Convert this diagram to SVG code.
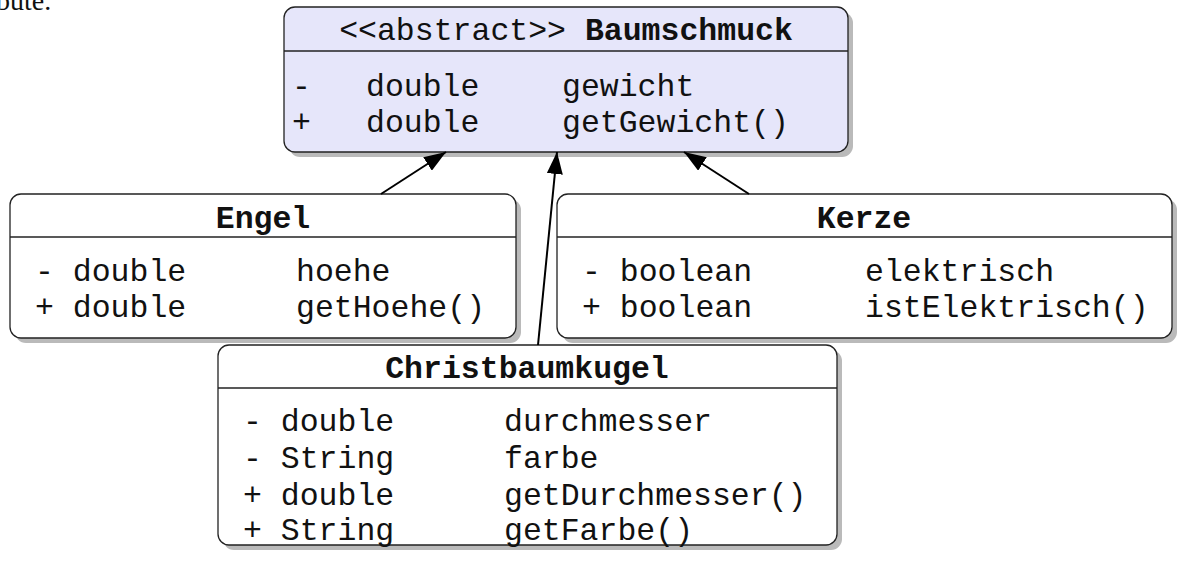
<svg xmlns="http://www.w3.org/2000/svg" width="1178" height="567" viewBox="0 0 1178 567">
<defs>
<style>
.shadow{fill:#bababa;}
.box{fill:#ffffff;stroke:#222;stroke-width:1.3;}
.abs{fill:#e6e6fa;}
.sep{stroke:#222;stroke-width:1.3;}
.t{font-family:"Liberation Mono","Courier New",monospace;font-size:31.5px;fill:#111;}
.b{font-weight:bold;}
.edge{stroke:#000;stroke-width:2;fill:none;marker-end:url(#tri);}
</style>
<marker id="tri" viewBox="0 0 22 16" refX="22" refY="8" markerWidth="22" markerHeight="16" markerUnits="userSpaceOnUse" orient="auto">
<path d="M0,0 L22,8 L0,16 Z" fill="#000"/>
</marker>
</defs>
<rect width="1178" height="567" fill="#fff"/>
<text x="-4" y="10" font-family="Liberation Serif, serif" font-size="28" fill="#111">bute.</text>

<g id="Baumschmuck">
<rect class="shadow" x="289" y="12" width="564" height="145" rx="11"/>
<rect class="box abs" x="284" y="7" width="564" height="145" rx="11"/>
<line class="sep" x1="284" y1="51" x2="848" y2="51"/>
<text class="t" x="566" y="40" text-anchor="middle">&lt;&lt;abstract&gt;&gt; <tspan class="b">Baumschmuck</tspan></text>
<text class="t" x="292" y="96">-</text>
<text class="t" x="366" y="96">double</text>
<text class="t" x="562" y="96">gewicht</text>
<text class="t" x="292" y="132">+</text>
<text class="t" x="366" y="132">double</text>
<text class="t" x="562" y="132">getGewicht()</text>
</g>

<g id="Engel">
<rect class="shadow" x="15" y="199" width="506" height="144" rx="11"/>
<rect class="box" x="10" y="194" width="506" height="144" rx="11"/>
<line class="sep" x1="10" y1="237" x2="516" y2="237"/>
<text class="t b" x="263" y="228" text-anchor="middle">Engel</text>
<text class="t" x="35" y="281">- double</text>
<text class="t" x="296" y="281">hoehe</text>
<text class="t" x="35" y="317">+ double</text>
<text class="t" x="296" y="317">getHoehe()</text>
</g>

<g id="Kerze">
<rect class="shadow" x="562" y="199" width="615" height="144" rx="11"/>
<rect class="box" x="557" y="194" width="615" height="144" rx="11"/>
<line class="sep" x1="557" y1="237" x2="1172" y2="237"/>
<text class="t b" x="864" y="228" text-anchor="middle">Kerze</text>
<text class="t" x="582" y="281">- boolean</text>
<text class="t" x="865" y="281">elektrisch</text>
<text class="t" x="582" y="317">+ boolean</text>
<text class="t" x="865" y="317">istElektrisch()</text>
</g>

<g id="Christbaumkugel">
<rect class="shadow" x="223" y="350" width="619" height="200" rx="11"/>
<rect class="box" x="218" y="345" width="619" height="200" rx="11"/>
<line class="sep" x1="218" y1="388" x2="837" y2="388"/>
<text class="t b" x="527" y="378" text-anchor="middle">Christbaumkugel</text>
<text class="t" x="243" y="431">- double</text>
<text class="t" x="504" y="431">durchmesser</text>
<text class="t" x="243" y="468">- String</text>
<text class="t" x="504" y="468">farbe</text>
<text class="t" x="243" y="505">+ double</text>
<text class="t" x="504" y="505">getDurchmesser()</text>
<text class="t" x="243" y="540">+ String</text>
<text class="t" x="504" y="540">getFarbe()</text>
</g>

<g id="connectors">
<line class="edge" x1="381" y1="194" x2="446" y2="152"/>
<line class="edge" x1="538" y1="345" x2="557" y2="152"/>
<line class="edge" x1="749" y1="194" x2="684" y2="152"/>
</g>
</svg>
